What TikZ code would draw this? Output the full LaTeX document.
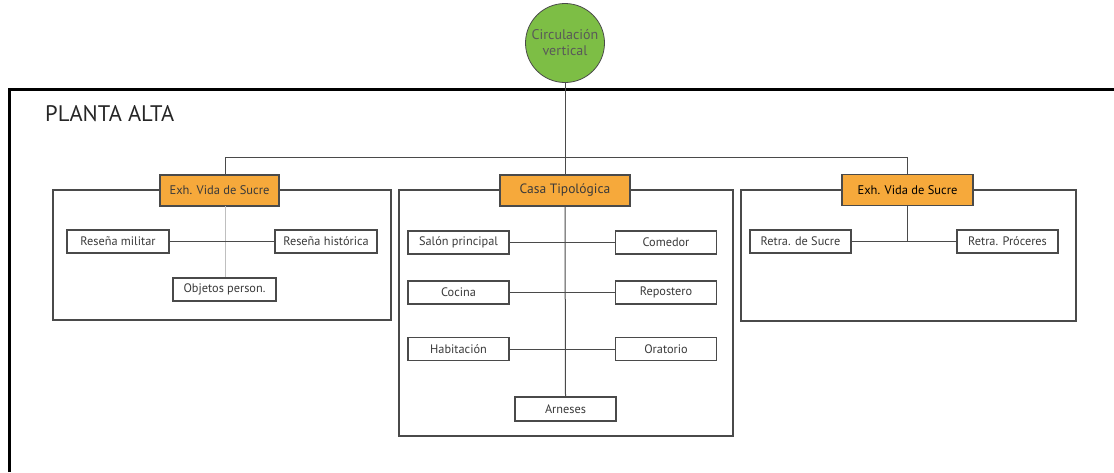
\documentclass[tikz,border=0pt]{standalone}
\usepackage{fontspec}
\setmainfont{PT Sans}
\definecolor{orangebox}{HTML}{F6A93B}
\definecolor{greencirc}{HTML}{7DBE45}
\definecolor{linegray}{HTML}{4A4A4A}
\definecolor{txtgray}{HTML}{3A3A3A}
\begin{document}
\begin{tikzpicture}[x=1pt,y=-1pt,
  room/.style={draw=linegray, line width=1.1pt, fill=white, minimum width=101pt, minimum height=23pt, inner sep=0pt, font=\fontsize{12.3}{14}\selectfont, text=txtgray},
  head/.style={draw=linegray, line width=1.1pt, fill=orangebox, minimum height=31pt, inner sep=0pt, font=\fontsize{12.5}{14}\selectfont, text=txtgray},
  zone/.style={draw=linegray, line width=1.1pt},
  conn/.style={draw=linegray, line width=1pt}]
\useasboundingbox (0,0) rectangle (1114,472);
\fill[white] (0,0) rectangle (1114,472);
% outer frame
\coordinate (fbl) at (9,472);
\coordinate (ftl) at (9,89);
\coordinate (ftr) at (1114,89);
\draw[line width=3pt, black] (fbl) -- (ftl) -- (ftr);
\node[anchor=base west, inner sep=0pt, font=\fontsize{22.5}{26}\selectfont, text=black!85] (title) at (45,121) {PLANTA ALTA};
% zones
\draw[zone] (53,190) rectangle (391,320);
\draw[zone] (399,190) rectangle (733,436);
\draw[zone] (741,190) rectangle (1076,321);
% circle
\node[circle, draw=linegray, line width=0.8pt, fill=greencirc, minimum size=79pt, inner sep=0pt, align=center, font=\fontsize{14}{16}\selectfont, text=black!65] (cv) at (565,43) {Circulación\\vertical};
% headers
\node[head, minimum width=119pt] (exL) at (219.5,190.5) {Exh. Vida de Sucre};
\node[head, minimum width=130pt, font=\fontsize{13.5}{15}\selectfont] (casa) at (565,190.5) {Casa Tipológica};
\node[head, minimum width=131pt, text=black, line width=1.4pt] (exR) at (907.5,190) {Exh. Vida de Sucre};
% left rooms
\node[room, minimum width=102pt] (rm) at (118,241.5) {Reseña militar};
\node[room, minimum width=102pt] (rh) at (326,241.5) {Reseña histórica};
\node[room, minimum width=103pt] (op) at (224.5,289.5) {Objetos person.};
% middle rooms
\node[room] (sp) at (458.5,242.5) {Salón principal};
\node[room] (com) at (666,242.5) {Comedor};
\node[room] (coc) at (458.5,292.5) {Cocina};
\node[room] (rep) at (666,292.5) {Repostero};
\node[room] (hab) at (458.5,349) {Habitación};
\node[room] (ora) at (666,349) {Oratorio};
\node[room, minimum height=24pt] (arn) at (565.5,409) {Arneses};
% right rooms
\node[room] (rs) at (800.5,241.5) {Retra. de Sucre};
\node[room] (rp) at (1007.5,241.5) {Retra. Próceres};
% connectors
\coordinate (jl) at (225,157);
\coordinate (jr) at (907.5,157);
\coordinate (jL) at (225,206);
\draw[conn] (exL.north -| jl) -- (jl) -- (jr) -- (exR.north);
\draw[conn] (cv.south) -- (casa.north);
\draw[conn] (casa.south) -- (arn.north);
\draw[conn, draw=black!25] (jL) -- (op.north -| jL);
\draw[conn] (rm.east) -- (rh.west);
\draw[conn] (sp.east) -- (com.west);
\draw[conn] (coc.east) -- (rep.west);
\draw[conn] (hab.east) -- (ora.west);
\draw[conn] (rs.east) -- (rp.west);
\draw[conn] (exR.south) -- (exR.south |- rs.east);
\end{tikzpicture}
\end{document}
